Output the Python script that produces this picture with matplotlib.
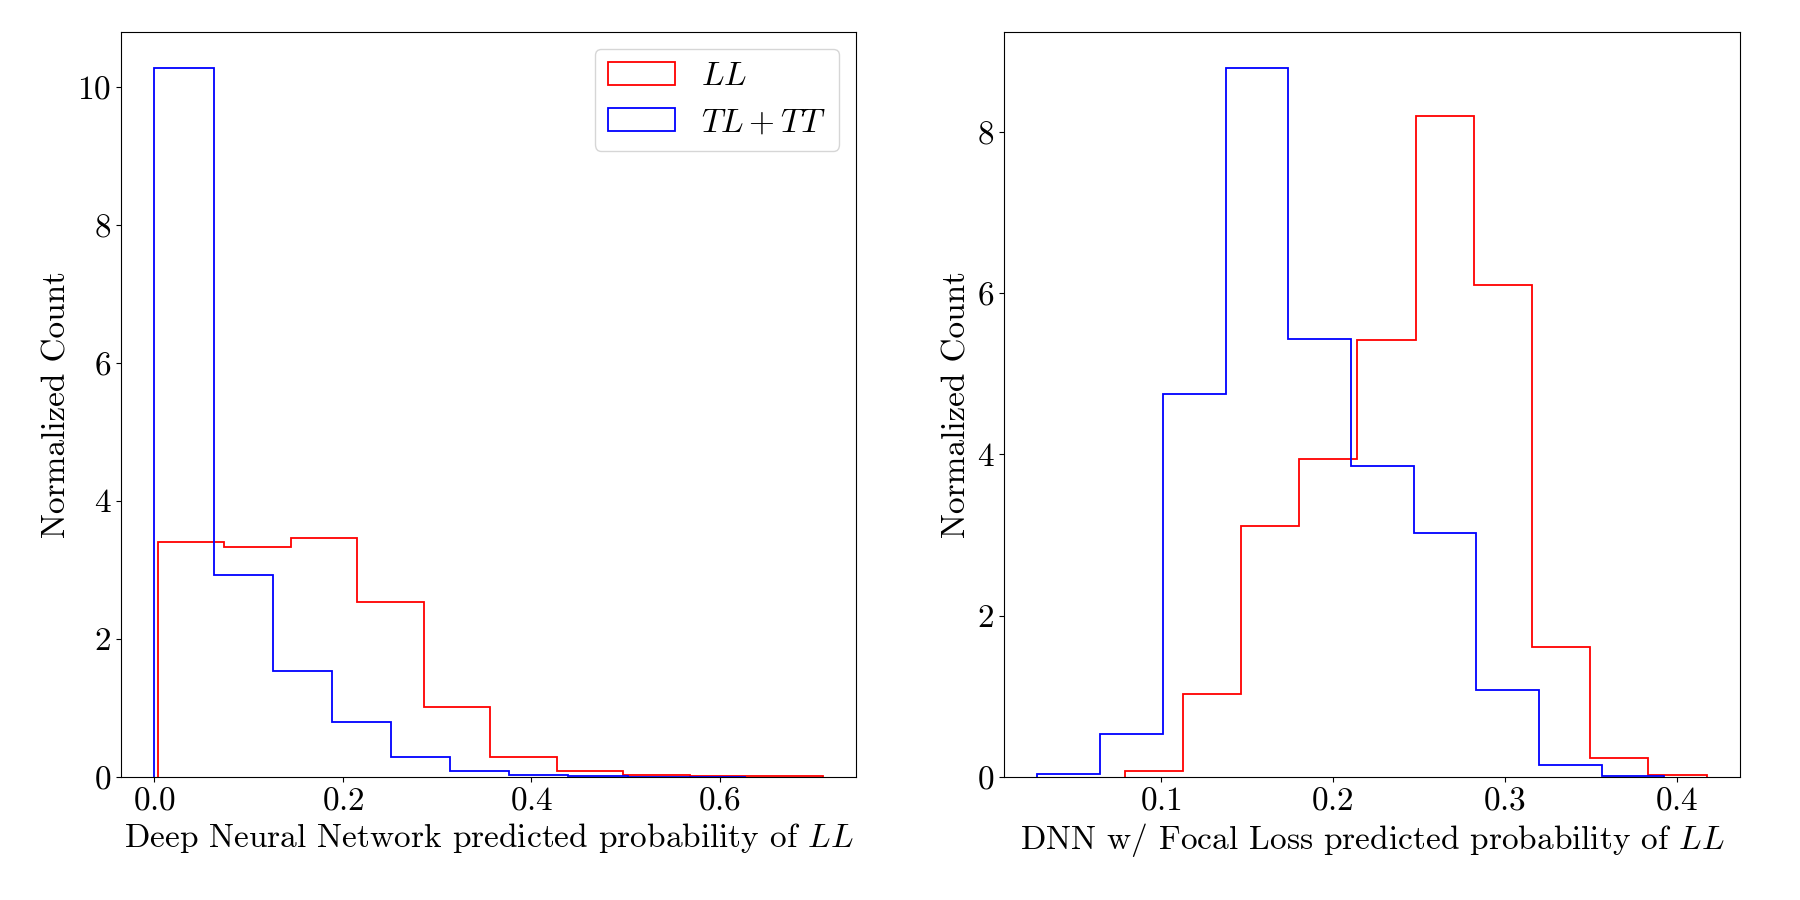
import numpy as np
import matplotlib
matplotlib.use("Agg")
import matplotlib.pyplot as plt

plt.rcParams['font.family'] = 'serif'
plt.rcParams['font.serif'] = ['cmr10']
plt.rcParams['mathtext.fontset'] = 'cm'
plt.rcParams['axes.unicode_minus'] = False
plt.rcParams['axes.formatter.use_mathtext'] = True

# bin ranges (10 bins each) and normalized heights
dnn_ll_range = (0.0037, 0.709)
dnn_ll = [3.40, 3.33, 3.46, 2.54, 1.018, 0.296, 0.087, 0.029, 0.012, 0.008]
dnn_tt_range = (0.0, 0.6275)
dnn_tt = [10.28, 2.92, 1.537, 0.795, 0.286, 0.087, 0.024, 0.010, 0.003, 0.001]

focal_ll_range = (0.0789, 0.4173)
focal_ll = [0.078, 1.024, 3.11, 3.95, 5.42, 8.20, 6.10, 1.607, 0.236, 0.020]
focal_tt_range = (0.0283, 0.3928)
focal_tt = [0.033, 0.53, 4.75, 8.80, 5.43, 3.86, 3.02, 1.077, 0.145, 0.016]

labels = [r'$LL$', r'$TL+TT$']
xlabels = [r'Deep Neural Network predicted probability of $LL$',
           r'DNN w/ Focal Loss predicted probability of $LL$']

fs = 24

def draw(ax, ll_rng, ll, tt_rng, tt, xlabel, legend=False):
    for rng, vals, color, lab in [(ll_rng, ll, 'red', labels[0]),
                                  (tt_rng, tt, 'blue', labels[1])]:
        edges = np.linspace(rng[0], rng[1], len(vals) + 1)
        ax.hist(edges[:-1], bins=edges, weights=vals, histtype='step',
                color=color, lw=1.3, label=lab)
    ax.set_xlabel(xlabel, fontsize=fs)
    ax.set_ylabel('Normalized Count', fontsize=fs)
    ax.tick_params(labelsize=fs)
    if legend:
        ax.legend(loc='upper right', fontsize=fs)

fig, (ax1, ax2) = plt.subplots(1, 2, figsize=(18, 9), dpi=100)

draw(ax1, dnn_ll_range, dnn_ll, dnn_tt_range, dnn_tt, xlabels[0], legend=True)
draw(ax2, focal_ll_range, focal_ll, focal_tt_range, focal_tt, xlabels[1])

ax1.set_position([0.0672, 0.1367, 0.4084, 0.8277])
ax2.set_position([0.5578, 0.1367, 0.4089, 0.8277])

fig.savefig('out.png', dpi=100)
